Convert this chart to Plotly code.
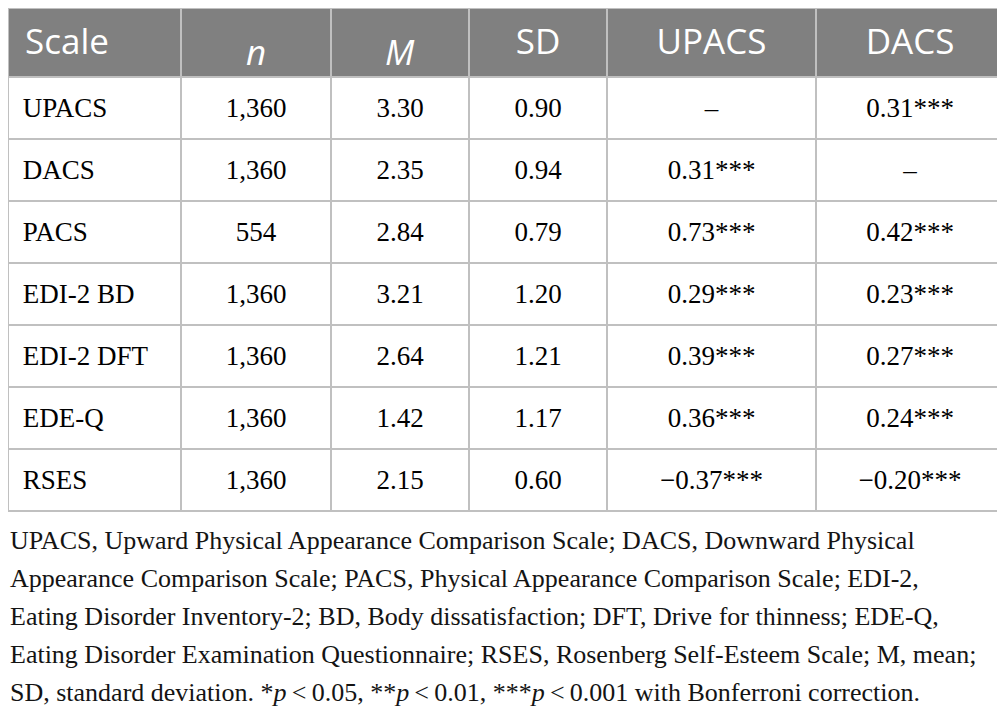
import plotly.graph_objects as go

# 表格数据
header_labels = ['Scale', '<i>n</i>', '<i>M</i>', 'SD', 'UPACS', 'DACS']
scales = ['UPACS', 'DACS', 'PACS', 'EDI-2 BD', 'EDI-2 DFT', 'EDE-Q', 'RSES']
n_values = ['1,360', '1,360', '554', '1,360', '1,360', '1,360', '1,360']
m_values = ['3.30', '2.35', '2.84', '3.21', '2.64', '1.42', '2.15']
sd_values = ['0.90', '0.94', '0.79', '1.20', '1.21', '1.17', '0.60']
upacs_r = ['–', '0.31***', '0.73***', '0.29***', '0.39***', '0.36***', '−0.37***']
dacs_r = ['0.31***', '–', '0.42***', '0.23***', '0.27***', '0.24***', '−0.20***']

footnote_lines = [
    'UPACS, Upward Physical Appearance Comparison Scale; DACS, Downward Physical',
    'Appearance Comparison Scale; PACS, Physical Appearance Comparison Scale; EDI-2,',
    'Eating Disorder Inventory-2; BD, Body dissatisfaction; DFT, Drive for thinness; EDE-Q,',
    'Eating Disorder Examination Questionnaire; RSES, Rosenberg Self-Esteem Scale; M, mean;',
    'SD, standard deviation. *<i>p</i>\u2009<\u20090.05, **<i>p</i>\u2009<\u20090.01, ***<i>p</i>\u2009<\u20090.001 with Bonferroni correction.',
]

# 页面 body 自带 8px 边距，所以图整体缩小 8px
W, H = 997, 712
col_widths = [173, 150, 138, 138, 209, 188]
header_h, row_h = 69, 62
text_shift = 12  # 表格文字默认贴顶，整体下移使其垂直居中

header_color = 'rgb(128, 128, 128)'
line_color = 'rgb(192, 192, 192)'
align = ['left', 'center', 'center', 'center', 'center', 'center']
pad = '\u00a0'
x_dom = [0, sum(col_widths) / W]
n_cols = len(header_labels)
n_rows = len(scales)

fig = go.Figure()

# 底层：表头底色与网格线
fig.add_trace(
    go.Table(
        domain=dict(x=x_dom, y=[0, 1]),
        columnwidth=col_widths,
        header=dict(
            values=[''] * n_cols,
            fill_color=header_color,
            line=dict(color=line_color, width=1.5),
            height=header_h,
        ),
        cells=dict(
            values=[[''] * n_rows for _ in range(n_cols)],
            fill_color='white',
            line=dict(color=line_color, width=1.5),
            height=row_h,
        ),
    )
)

# 上层：文字
fig.add_trace(
    go.Table(
        domain=dict(x=x_dom, y=[0, 1 - text_shift / H]),
        columnwidth=col_widths,
        header=dict(
            values=[pad + header_labels[0]] + header_labels[1:],
            fill_color='rgba(0,0,0,0)',
            line=dict(color='rgba(0,0,0,0)', width=0),
            font=dict(family='Open Sans', size=35, color='white'),
            align=align,
            height=header_h,
        ),
        cells=dict(
            values=[[pad + s for s in scales], n_values, m_values, sd_values, upacs_r, dacs_r],
            fill_color='rgba(0,0,0,0)',
            line=dict(color='rgba(0,0,0,0)', width=0),
            font=dict(family='Liberation Serif', size=27, color='black'),
            align=align,
            height=row_h,
        ),
    )
)

# 注释行
for i, line in enumerate(footnote_lines):
    fig.add_annotation(
        x=0, y=1 - (532 + 38 * i) / H,
        xref='paper', yref='paper',
        xanchor='left', yanchor='middle',
        text=line, showarrow=False,
        font=dict(family='Liberation Serif', size=26, color='rgb(20, 20, 20)'),
    )

fig.update_layout(
    width=W,
    height=H,
    margin=dict(l=0, r=0, t=0, b=0),
    paper_bgcolor='white',
    plot_bgcolor='white',
)

fig.write_html('out.html')
